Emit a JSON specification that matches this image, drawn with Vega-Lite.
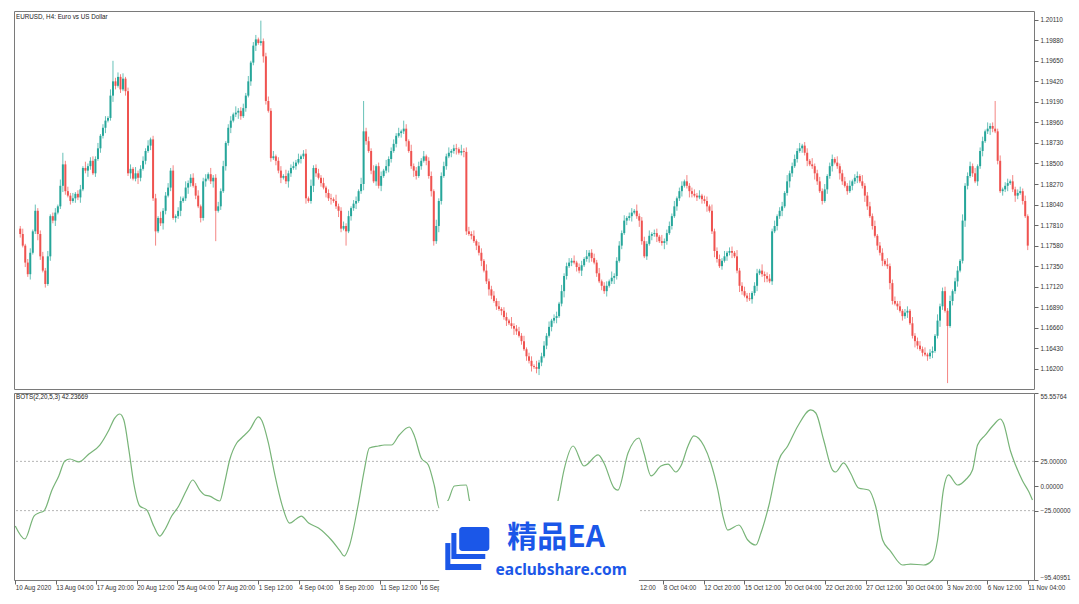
{
"$schema": "https://vega.github.io/schema/vega-lite/v6.json",
"background": "white",
"padding": {"left": 12, "top": 10, "right": 0, "bottom": 0},
"spacing": 2,
"config": {
  "view": {"stroke": "#7a7a7a", "strokeWidth": 1},
  "axis": {"labelFont": "Liberation Sans", "labelFontSize": 6.3, "labelColor": "#333333", "tickColor": "#666666", "tickSize": 4, "domain": false, "grid": false, "labelOverlap": false},
  "title": {"font": "Liberation Sans", "fontSize": 6.3, "fontWeight": "normal", "color": "#222222", "anchor": "start", "frame": "group"}
},
"datasets": {
"bars": [
{"i":0,"o":1.1777,"h":1.1780,"l":1.1767,"c":1.1771},
{"i":1,"o":1.1771,"h":1.1777,"l":1.1756,"c":1.1758},
{"i":2,"o":1.1758,"h":1.1760,"l":1.1734,"c":1.1739},
{"i":3,"o":1.1739,"h":1.1743,"l":1.1723,"c":1.1726},
{"i":4,"o":1.1726,"h":1.1755,"l":1.1720,"c":1.1750},
{"i":5,"o":1.1750,"h":1.1776,"l":1.1748,"c":1.1774},
{"i":6,"o":1.1774,"h":1.1804,"l":1.1771,"c":1.1797},
{"i":7,"o":1.1797,"h":1.1800,"l":1.1764,"c":1.1771},
{"i":8,"o":1.1771,"h":1.1775,"l":1.1742,"c":1.1746},
{"i":9,"o":1.1746,"h":1.1751,"l":1.1728,"c":1.1730},
{"i":10,"o":1.1730,"h":1.1733,"l":1.1711,"c":1.1715},
{"i":11,"o":1.1715,"h":1.1752,"l":1.1713,"c":1.1746},
{"i":12,"o":1.1746,"h":1.1793,"l":1.1741,"c":1.1791},
{"i":13,"o":1.1791,"h":1.1795,"l":1.1783,"c":1.1786},
{"i":14,"o":1.1786,"h":1.1800,"l":1.1780,"c":1.1795},
{"i":15,"o":1.1795,"h":1.1804,"l":1.1793,"c":1.1802},
{"i":16,"o":1.1802,"h":1.1832,"l":1.1799,"c":1.1825},
{"i":17,"o":1.1825,"h":1.1862,"l":1.1818,"c":1.1849},
{"i":18,"o":1.1849,"h":1.1853,"l":1.1815,"c":1.1819},
{"i":19,"o":1.1819,"h":1.1824,"l":1.1812,"c":1.1814},
{"i":20,"o":1.1814,"h":1.1817,"l":1.1804,"c":1.1808},
{"i":21,"o":1.1808,"h":1.1817,"l":1.1806,"c":1.1811},
{"i":22,"o":1.1811,"h":1.1818,"l":1.1806,"c":1.1816},
{"i":23,"o":1.1816,"h":1.1820,"l":1.1809,"c":1.1812},
{"i":24,"o":1.1812,"h":1.1826,"l":1.1806,"c":1.1821},
{"i":25,"o":1.1821,"h":1.1847,"l":1.1819,"c":1.1845},
{"i":26,"o":1.1845,"h":1.1852,"l":1.1839,"c":1.1842},
{"i":27,"o":1.1842,"h":1.1850,"l":1.1835,"c":1.1847},
{"i":28,"o":1.1847,"h":1.1857,"l":1.1843,"c":1.1853},
{"i":29,"o":1.1853,"h":1.1858,"l":1.1837,"c":1.1839},
{"i":30,"o":1.1839,"h":1.1858,"l":1.1835,"c":1.1855},
{"i":31,"o":1.1855,"h":1.1873,"l":1.1853,"c":1.1867},
{"i":32,"o":1.1867,"h":1.1883,"l":1.1862,"c":1.1881},
{"i":33,"o":1.1881,"h":1.1894,"l":1.1878,"c":1.1890},
{"i":34,"o":1.1890,"h":1.1903,"l":1.1884,"c":1.1898},
{"i":35,"o":1.1898,"h":1.1903,"l":1.1896,"c":1.1901},
{"i":36,"o":1.1901,"h":1.1933,"l":1.1898,"c":1.1926},
{"i":37,"o":1.1926,"h":1.1965,"l":1.1919,"c":1.1942},
{"i":38,"o":1.1942,"h":1.1946,"l":1.1933,"c":1.1937},
{"i":39,"o":1.1937,"h":1.1952,"l":1.1935,"c":1.1947},
{"i":40,"o":1.1947,"h":1.1950,"l":1.1929,"c":1.1933},
{"i":41,"o":1.1933,"h":1.1951,"l":1.1931,"c":1.1945},
{"i":42,"o":1.1945,"h":1.1947,"l":1.1926,"c":1.1931},
{"i":43,"o":1.1931,"h":1.1935,"l":1.1836,"c":1.1839},
{"i":44,"o":1.1839,"h":1.1849,"l":1.1833,"c":1.1844},
{"i":45,"o":1.1844,"h":1.1846,"l":1.1831,"c":1.1833},
{"i":46,"o":1.1833,"h":1.1846,"l":1.1830,"c":1.1839},
{"i":47,"o":1.1839,"h":1.1842,"l":1.1827,"c":1.1834},
{"i":48,"o":1.1834,"h":1.1848,"l":1.1830,"c":1.1844},
{"i":49,"o":1.1844,"h":1.1858,"l":1.1842,"c":1.1853},
{"i":50,"o":1.1853,"h":1.1867,"l":1.1849,"c":1.1864},
{"i":51,"o":1.1864,"h":1.1876,"l":1.1862,"c":1.1870},
{"i":52,"o":1.1870,"h":1.1879,"l":1.1865,"c":1.1877},
{"i":53,"o":1.1877,"h":1.1881,"l":1.1808,"c":1.1811},
{"i":54,"o":1.1811,"h":1.1816,"l":1.1758,"c":1.1774},
{"i":55,"o":1.1774,"h":1.1791,"l":1.1772,"c":1.1789},
{"i":56,"o":1.1789,"h":1.1796,"l":1.1780,"c":1.1783},
{"i":57,"o":1.1783,"h":1.1800,"l":1.1776,"c":1.1797},
{"i":58,"o":1.1797,"h":1.1818,"l":1.1793,"c":1.1814},
{"i":59,"o":1.1814,"h":1.1828,"l":1.1812,"c":1.1823},
{"i":60,"o":1.1823,"h":1.1845,"l":1.1819,"c":1.1842},
{"i":61,"o":1.1842,"h":1.1848,"l":1.1787,"c":1.1789},
{"i":62,"o":1.1789,"h":1.1793,"l":1.1784,"c":1.1791},
{"i":63,"o":1.1791,"h":1.1801,"l":1.1788,"c":1.1797},
{"i":64,"o":1.1797,"h":1.1813,"l":1.1791,"c":1.1808},
{"i":65,"o":1.1808,"h":1.1813,"l":1.1806,"c":1.1811},
{"i":66,"o":1.1811,"h":1.1830,"l":1.1808,"c":1.1823},
{"i":67,"o":1.1823,"h":1.1831,"l":1.1816,"c":1.1828},
{"i":68,"o":1.1828,"h":1.1838,"l":1.1824,"c":1.1834},
{"i":69,"o":1.1834,"h":1.1839,"l":1.1823,"c":1.1825},
{"i":70,"o":1.1825,"h":1.1828,"l":1.1810,"c":1.1814},
{"i":71,"o":1.1814,"h":1.1820,"l":1.1800,"c":1.1802},
{"i":72,"o":1.1802,"h":1.1804,"l":1.1784,"c":1.1789},
{"i":73,"o":1.1789,"h":1.1834,"l":1.1786,"c":1.1830},
{"i":74,"o":1.1830,"h":1.1838,"l":1.1824,"c":1.1833},
{"i":75,"o":1.1833,"h":1.1840,"l":1.1831,"c":1.1838},
{"i":76,"o":1.1838,"h":1.1845,"l":1.1827,"c":1.1830},
{"i":77,"o":1.1830,"h":1.1837,"l":1.1823,"c":1.1834},
{"i":78,"o":1.1834,"h":1.1838,"l":1.1763,"c":1.1797},
{"i":79,"o":1.1797,"h":1.1807,"l":1.1795,"c":1.1802},
{"i":80,"o":1.1802,"h":1.1822,"l":1.1798,"c":1.1819},
{"i":81,"o":1.1819,"h":1.1853,"l":1.1817,"c":1.1847},
{"i":82,"o":1.1847,"h":1.1875,"l":1.1842,"c":1.1873},
{"i":83,"o":1.1873,"h":1.1894,"l":1.1870,"c":1.1890},
{"i":84,"o":1.1890,"h":1.1903,"l":1.1884,"c":1.1898},
{"i":85,"o":1.1898,"h":1.1907,"l":1.1896,"c":1.1905},
{"i":86,"o":1.1905,"h":1.1914,"l":1.1902,"c":1.1907},
{"i":87,"o":1.1907,"h":1.1912,"l":1.1900,"c":1.1909},
{"i":88,"o":1.1909,"h":1.1913,"l":1.1899,"c":1.1903},
{"i":89,"o":1.1903,"h":1.1917,"l":1.1901,"c":1.1912},
{"i":90,"o":1.1912,"h":1.1929,"l":1.1908,"c":1.1926},
{"i":91,"o":1.1926,"h":1.1948,"l":1.1924,"c":1.1942},
{"i":92,"o":1.1942,"h":1.1965,"l":1.1937,"c":1.1963},
{"i":93,"o":1.1963,"h":1.1986,"l":1.1960,"c":1.1982},
{"i":94,"o":1.1982,"h":1.1994,"l":1.1976,"c":1.1989},
{"i":95,"o":1.1989,"h":1.1991,"l":1.1983,"c":1.1985},
{"i":96,"o":1.1985,"h":1.2010,"l":1.1982,"c":1.1987},
{"i":97,"o":1.1987,"h":1.1990,"l":1.1963,"c":1.1970},
{"i":98,"o":1.1970,"h":1.1974,"l":1.1916,"c":1.1920},
{"i":99,"o":1.1920,"h":1.1925,"l":1.1907,"c":1.1909},
{"i":100,"o":1.1909,"h":1.1912,"l":1.1852,"c":1.1856},
{"i":101,"o":1.1856,"h":1.1864,"l":1.1854,"c":1.1858},
{"i":102,"o":1.1858,"h":1.1860,"l":1.1848,"c":1.1853},
{"i":103,"o":1.1853,"h":1.1857,"l":1.1839,"c":1.1842},
{"i":104,"o":1.1842,"h":1.1847,"l":1.1828,"c":1.1834},
{"i":105,"o":1.1834,"h":1.1838,"l":1.1832,"c":1.1836},
{"i":106,"o":1.1836,"h":1.1843,"l":1.1827,"c":1.1830},
{"i":107,"o":1.1830,"h":1.1842,"l":1.1823,"c":1.1839},
{"i":108,"o":1.1839,"h":1.1849,"l":1.1835,"c":1.1845},
{"i":109,"o":1.1845,"h":1.1852,"l":1.1843,"c":1.1847},
{"i":110,"o":1.1847,"h":1.1854,"l":1.1843,"c":1.1851},
{"i":111,"o":1.1851,"h":1.1861,"l":1.1849,"c":1.1855},
{"i":112,"o":1.1855,"h":1.1860,"l":1.1850,"c":1.1858},
{"i":113,"o":1.1858,"h":1.1865,"l":1.1855,"c":1.1861},
{"i":114,"o":1.1861,"h":1.1866,"l":1.1805,"c":1.1811},
{"i":115,"o":1.1811,"h":1.1813,"l":1.1806,"c":1.1808},
{"i":116,"o":1.1808,"h":1.1832,"l":1.1805,"c":1.1825},
{"i":117,"o":1.1825,"h":1.1848,"l":1.1818,"c":1.1845},
{"i":118,"o":1.1845,"h":1.1849,"l":1.1835,"c":1.1839},
{"i":119,"o":1.1839,"h":1.1844,"l":1.1832,"c":1.1834},
{"i":120,"o":1.1834,"h":1.1837,"l":1.1824,"c":1.1828},
{"i":121,"o":1.1828,"h":1.1834,"l":1.1821,"c":1.1823},
{"i":122,"o":1.1823,"h":1.1825,"l":1.1812,"c":1.1817},
{"i":123,"o":1.1817,"h":1.1821,"l":1.1808,"c":1.1811},
{"i":124,"o":1.1811,"h":1.1816,"l":1.1804,"c":1.1810},
{"i":125,"o":1.1810,"h":1.1812,"l":1.1806,"c":1.1808},
{"i":126,"o":1.1808,"h":1.1815,"l":1.1799,"c":1.1802},
{"i":127,"o":1.1802,"h":1.1805,"l":1.1790,"c":1.1797},
{"i":128,"o":1.1797,"h":1.1801,"l":1.1773,"c":1.1777},
{"i":129,"o":1.1777,"h":1.1785,"l":1.1775,"c":1.1780},
{"i":130,"o":1.1780,"h":1.1783,"l":1.1758,"c":1.1774},
{"i":131,"o":1.1774,"h":1.1797,"l":1.1772,"c":1.1791},
{"i":132,"o":1.1791,"h":1.1802,"l":1.1786,"c":1.1800},
{"i":133,"o":1.1800,"h":1.1809,"l":1.1797,"c":1.1805},
{"i":134,"o":1.1805,"h":1.1813,"l":1.1799,"c":1.1808},
{"i":135,"o":1.1808,"h":1.1821,"l":1.1806,"c":1.1819},
{"i":136,"o":1.1819,"h":1.1834,"l":1.1816,"c":1.1827},
{"i":137,"o":1.1827,"h":1.1920,"l":1.1820,"c":1.1886},
{"i":138,"o":1.1886,"h":1.1890,"l":1.1871,"c":1.1875},
{"i":139,"o":1.1875,"h":1.1880,"l":1.1862,"c":1.1864},
{"i":140,"o":1.1864,"h":1.1867,"l":1.1838,"c":1.1842},
{"i":141,"o":1.1842,"h":1.1848,"l":1.1828,"c":1.1830},
{"i":142,"o":1.1830,"h":1.1849,"l":1.1825,"c":1.1847},
{"i":143,"o":1.1847,"h":1.1851,"l":1.1822,"c":1.1825},
{"i":144,"o":1.1825,"h":1.1841,"l":1.1819,"c":1.1836},
{"i":145,"o":1.1836,"h":1.1844,"l":1.1834,"c":1.1842},
{"i":146,"o":1.1842,"h":1.1854,"l":1.1839,"c":1.1847},
{"i":147,"o":1.1847,"h":1.1858,"l":1.1840,"c":1.1855},
{"i":148,"o":1.1855,"h":1.1868,"l":1.1851,"c":1.1864},
{"i":149,"o":1.1864,"h":1.1877,"l":1.1862,"c":1.1872},
{"i":150,"o":1.1872,"h":1.1884,"l":1.1868,"c":1.1881},
{"i":151,"o":1.1881,"h":1.1890,"l":1.1879,"c":1.1884},
{"i":152,"o":1.1884,"h":1.1888,"l":1.1879,"c":1.1886},
{"i":153,"o":1.1886,"h":1.1898,"l":1.1883,"c":1.1889},
{"i":154,"o":1.1889,"h":1.1894,"l":1.1869,"c":1.1875},
{"i":155,"o":1.1875,"h":1.1877,"l":1.1862,"c":1.1864},
{"i":156,"o":1.1864,"h":1.1871,"l":1.1844,"c":1.1847},
{"i":157,"o":1.1847,"h":1.1850,"l":1.1835,"c":1.1842},
{"i":158,"o":1.1842,"h":1.1846,"l":1.1832,"c":1.1836},
{"i":159,"o":1.1836,"h":1.1852,"l":1.1834,"c":1.1847},
{"i":160,"o":1.1847,"h":1.1856,"l":1.1843,"c":1.1853},
{"i":161,"o":1.1853,"h":1.1864,"l":1.1851,"c":1.1858},
{"i":162,"o":1.1858,"h":1.1860,"l":1.1848,"c":1.1853},
{"i":163,"o":1.1853,"h":1.1857,"l":1.1833,"c":1.1836},
{"i":164,"o":1.1836,"h":1.1841,"l":1.1813,"c":1.1819},
{"i":165,"o":1.1819,"h":1.1821,"l":1.1758,"c":1.1763},
{"i":166,"o":1.1763,"h":1.1787,"l":1.1760,"c":1.1780},
{"i":167,"o":1.1780,"h":1.1811,"l":1.1773,"c":1.1808},
{"i":168,"o":1.1808,"h":1.1840,"l":1.1804,"c":1.1836},
{"i":169,"o":1.1836,"h":1.1852,"l":1.1834,"c":1.1847},
{"i":170,"o":1.1847,"h":1.1861,"l":1.1843,"c":1.1858},
{"i":171,"o":1.1858,"h":1.1868,"l":1.1856,"c":1.1862},
{"i":172,"o":1.1862,"h":1.1866,"l":1.1857,"c":1.1864},
{"i":173,"o":1.1864,"h":1.1871,"l":1.1861,"c":1.1867},
{"i":174,"o":1.1867,"h":1.1872,"l":1.1860,"c":1.1866},
{"i":175,"o":1.1866,"h":1.1868,"l":1.1860,"c":1.1862},
{"i":176,"o":1.1862,"h":1.1871,"l":1.1859,"c":1.1864},
{"i":177,"o":1.1864,"h":1.1867,"l":1.1857,"c":1.1863},
{"i":178,"o":1.1863,"h":1.1868,"l":1.1770,"c":1.1774},
{"i":179,"o":1.1774,"h":1.1779,"l":1.1769,"c":1.1771},
{"i":180,"o":1.1771,"h":1.1774,"l":1.1765,"c":1.1769},
{"i":181,"o":1.1769,"h":1.1775,"l":1.1761,"c":1.1763},
{"i":182,"o":1.1763,"h":1.1765,"l":1.1753,"c":1.1758},
{"i":183,"o":1.1758,"h":1.1762,"l":1.1747,"c":1.1750},
{"i":184,"o":1.1750,"h":1.1755,"l":1.1735,"c":1.1741},
{"i":185,"o":1.1741,"h":1.1743,"l":1.1728,"c":1.1730},
{"i":186,"o":1.1730,"h":1.1737,"l":1.1715,"c":1.1718},
{"i":187,"o":1.1718,"h":1.1721,"l":1.1702,"c":1.1709},
{"i":188,"o":1.1709,"h":1.1713,"l":1.1698,"c":1.1702},
{"i":189,"o":1.1702,"h":1.1707,"l":1.1694,"c":1.1696},
{"i":190,"o":1.1696,"h":1.1699,"l":1.1686,"c":1.1690},
{"i":191,"o":1.1690,"h":1.1696,"l":1.1685,"c":1.1687},
{"i":192,"o":1.1687,"h":1.1689,"l":1.1680,"c":1.1685},
{"i":193,"o":1.1685,"h":1.1689,"l":1.1675,"c":1.1678},
{"i":194,"o":1.1678,"h":1.1683,"l":1.1668,"c":1.1674},
{"i":195,"o":1.1674,"h":1.1676,"l":1.1669,"c":1.1671},
{"i":196,"o":1.1671,"h":1.1678,"l":1.1665,"c":1.1668},
{"i":197,"o":1.1668,"h":1.1671,"l":1.1658,"c":1.1665},
{"i":198,"o":1.1665,"h":1.1669,"l":1.1658,"c":1.1662},
{"i":199,"o":1.1662,"h":1.1667,"l":1.1655,"c":1.1657},
{"i":200,"o":1.1657,"h":1.1660,"l":1.1647,"c":1.1651},
{"i":201,"o":1.1651,"h":1.1657,"l":1.1640,"c":1.1642},
{"i":202,"o":1.1642,"h":1.1644,"l":1.1629,"c":1.1634},
{"i":203,"o":1.1634,"h":1.1638,"l":1.1626,"c":1.1629},
{"i":204,"o":1.1629,"h":1.1634,"l":1.1617,"c":1.1623},
{"i":205,"o":1.1623,"h":1.1625,"l":1.1620,"c":1.1622},
{"i":206,"o":1.1622,"h":1.1629,"l":1.1615,"c":1.1620},
{"i":207,"o":1.1620,"h":1.1630,"l":1.1613,"c":1.1627},
{"i":208,"o":1.1627,"h":1.1638,"l":1.1623,"c":1.1634},
{"i":209,"o":1.1634,"h":1.1651,"l":1.1632,"c":1.1646},
{"i":210,"o":1.1646,"h":1.1660,"l":1.1642,"c":1.1657},
{"i":211,"o":1.1657,"h":1.1673,"l":1.1655,"c":1.1667},
{"i":212,"o":1.1667,"h":1.1676,"l":1.1662,"c":1.1674},
{"i":213,"o":1.1674,"h":1.1681,"l":1.1671,"c":1.1677},
{"i":214,"o":1.1677,"h":1.1684,"l":1.1671,"c":1.1679},
{"i":215,"o":1.1679,"h":1.1695,"l":1.1677,"c":1.1693},
{"i":216,"o":1.1693,"h":1.1714,"l":1.1690,"c":1.1707},
{"i":217,"o":1.1707,"h":1.1727,"l":1.1700,"c":1.1724},
{"i":218,"o":1.1724,"h":1.1739,"l":1.1720,"c":1.1735},
{"i":219,"o":1.1735,"h":1.1744,"l":1.1733,"c":1.1739},
{"i":220,"o":1.1739,"h":1.1744,"l":1.1735,"c":1.1741},
{"i":221,"o":1.1741,"h":1.1747,"l":1.1737,"c":1.1739},
{"i":222,"o":1.1739,"h":1.1741,"l":1.1729,"c":1.1734},
{"i":223,"o":1.1734,"h":1.1738,"l":1.1727,"c":1.1730},
{"i":224,"o":1.1730,"h":1.1741,"l":1.1724,"c":1.1736},
{"i":225,"o":1.1736,"h":1.1745,"l":1.1734,"c":1.1743},
{"i":226,"o":1.1743,"h":1.1753,"l":1.1740,"c":1.1746},
{"i":227,"o":1.1746,"h":1.1753,"l":1.1739,"c":1.1750},
{"i":228,"o":1.1750,"h":1.1754,"l":1.1740,"c":1.1744},
{"i":229,"o":1.1744,"h":1.1749,"l":1.1737,"c":1.1739},
{"i":230,"o":1.1739,"h":1.1742,"l":1.1723,"c":1.1727},
{"i":231,"o":1.1727,"h":1.1733,"l":1.1716,"c":1.1718},
{"i":232,"o":1.1718,"h":1.1720,"l":1.1708,"c":1.1713},
{"i":233,"o":1.1713,"h":1.1717,"l":1.1704,"c":1.1707},
{"i":234,"o":1.1707,"h":1.1718,"l":1.1701,"c":1.1713},
{"i":235,"o":1.1713,"h":1.1720,"l":1.1711,"c":1.1718},
{"i":236,"o":1.1718,"h":1.1729,"l":1.1715,"c":1.1722},
{"i":237,"o":1.1722,"h":1.1727,"l":1.1715,"c":1.1724},
{"i":238,"o":1.1724,"h":1.1745,"l":1.1720,"c":1.1741},
{"i":239,"o":1.1741,"h":1.1763,"l":1.1739,"c":1.1758},
{"i":240,"o":1.1758,"h":1.1775,"l":1.1754,"c":1.1772},
{"i":241,"o":1.1772,"h":1.1792,"l":1.1770,"c":1.1786},
{"i":242,"o":1.1786,"h":1.1791,"l":1.1781,"c":1.1789},
{"i":243,"o":1.1789,"h":1.1795,"l":1.1786,"c":1.1791},
{"i":244,"o":1.1791,"h":1.1800,"l":1.1785,"c":1.1795},
{"i":245,"o":1.1795,"h":1.1799,"l":1.1793,"c":1.1797},
{"i":246,"o":1.1797,"h":1.1804,"l":1.1788,"c":1.1791},
{"i":247,"o":1.1791,"h":1.1794,"l":1.1779,"c":1.1786},
{"i":248,"o":1.1786,"h":1.1790,"l":1.1759,"c":1.1763},
{"i":249,"o":1.1763,"h":1.1768,"l":1.1744,"c":1.1746},
{"i":250,"o":1.1746,"h":1.1763,"l":1.1742,"c":1.1760},
{"i":251,"o":1.1760,"h":1.1775,"l":1.1758,"c":1.1769},
{"i":252,"o":1.1769,"h":1.1773,"l":1.1764,"c":1.1771},
{"i":253,"o":1.1771,"h":1.1776,"l":1.1768,"c":1.1772},
{"i":254,"o":1.1772,"h":1.1777,"l":1.1762,"c":1.1768},
{"i":255,"o":1.1768,"h":1.1770,"l":1.1761,"c":1.1763},
{"i":256,"o":1.1763,"h":1.1770,"l":1.1758,"c":1.1761},
{"i":257,"o":1.1761,"h":1.1766,"l":1.1754,"c":1.1763},
{"i":258,"o":1.1763,"h":1.1776,"l":1.1759,"c":1.1772},
{"i":259,"o":1.1772,"h":1.1785,"l":1.1770,"c":1.1780},
{"i":260,"o":1.1780,"h":1.1794,"l":1.1776,"c":1.1791},
{"i":261,"o":1.1791,"h":1.1808,"l":1.1789,"c":1.1802},
{"i":262,"o":1.1802,"h":1.1813,"l":1.1797,"c":1.1811},
{"i":263,"o":1.1811,"h":1.1823,"l":1.1808,"c":1.1819},
{"i":264,"o":1.1819,"h":1.1830,"l":1.1813,"c":1.1825},
{"i":265,"o":1.1825,"h":1.1832,"l":1.1823,"c":1.1830},
{"i":266,"o":1.1830,"h":1.1837,"l":1.1822,"c":1.1825},
{"i":267,"o":1.1825,"h":1.1828,"l":1.1812,"c":1.1819},
{"i":268,"o":1.1819,"h":1.1823,"l":1.1812,"c":1.1816},
{"i":269,"o":1.1816,"h":1.1821,"l":1.1812,"c":1.1814},
{"i":270,"o":1.1814,"h":1.1817,"l":1.1808,"c":1.1812},
{"i":271,"o":1.1812,"h":1.1820,"l":1.1810,"c":1.1814},
{"i":272,"o":1.1814,"h":1.1816,"l":1.1805,"c":1.1810},
{"i":273,"o":1.1810,"h":1.1814,"l":1.1805,"c":1.1808},
{"i":274,"o":1.1808,"h":1.1813,"l":1.1796,"c":1.1802},
{"i":275,"o":1.1802,"h":1.1804,"l":1.1795,"c":1.1797},
{"i":276,"o":1.1797,"h":1.1804,"l":1.1771,"c":1.1774},
{"i":277,"o":1.1774,"h":1.1777,"l":1.1745,"c":1.1752},
{"i":278,"o":1.1752,"h":1.1756,"l":1.1739,"c":1.1743},
{"i":279,"o":1.1743,"h":1.1748,"l":1.1733,"c":1.1735},
{"i":280,"o":1.1735,"h":1.1744,"l":1.1731,"c":1.1741},
{"i":281,"o":1.1741,"h":1.1752,"l":1.1739,"c":1.1746},
{"i":282,"o":1.1746,"h":1.1752,"l":1.1741,"c":1.1750},
{"i":283,"o":1.1750,"h":1.1756,"l":1.1747,"c":1.1752},
{"i":284,"o":1.1752,"h":1.1757,"l":1.1744,"c":1.1750},
{"i":285,"o":1.1750,"h":1.1752,"l":1.1744,"c":1.1746},
{"i":286,"o":1.1746,"h":1.1753,"l":1.1727,"c":1.1730},
{"i":287,"o":1.1730,"h":1.1733,"l":1.1706,"c":1.1713},
{"i":288,"o":1.1713,"h":1.1717,"l":1.1703,"c":1.1707},
{"i":289,"o":1.1707,"h":1.1712,"l":1.1700,"c":1.1702},
{"i":290,"o":1.1702,"h":1.1705,"l":1.1695,"c":1.1699},
{"i":291,"o":1.1699,"h":1.1705,"l":1.1696,"c":1.1698},
{"i":292,"o":1.1698,"h":1.1707,"l":1.1693,"c":1.1705},
{"i":293,"o":1.1705,"h":1.1717,"l":1.1702,"c":1.1713},
{"i":294,"o":1.1713,"h":1.1732,"l":1.1707,"c":1.1727},
{"i":295,"o":1.1727,"h":1.1732,"l":1.1725,"c":1.1730},
{"i":296,"o":1.1730,"h":1.1737,"l":1.1723,"c":1.1726},
{"i":297,"o":1.1726,"h":1.1729,"l":1.1717,"c":1.1724},
{"i":298,"o":1.1724,"h":1.1728,"l":1.1717,"c":1.1721},
{"i":299,"o":1.1721,"h":1.1726,"l":1.1716,"c":1.1718},
{"i":300,"o":1.1718,"h":1.1777,"l":1.1714,"c":1.1774},
{"i":301,"o":1.1774,"h":1.1786,"l":1.1772,"c":1.1780},
{"i":302,"o":1.1780,"h":1.1793,"l":1.1775,"c":1.1791},
{"i":303,"o":1.1791,"h":1.1801,"l":1.1788,"c":1.1797},
{"i":304,"o":1.1797,"h":1.1807,"l":1.1791,"c":1.1802},
{"i":305,"o":1.1802,"h":1.1819,"l":1.1800,"c":1.1817},
{"i":306,"o":1.1817,"h":1.1837,"l":1.1814,"c":1.1830},
{"i":307,"o":1.1830,"h":1.1842,"l":1.1823,"c":1.1839},
{"i":308,"o":1.1839,"h":1.1851,"l":1.1835,"c":1.1847},
{"i":309,"o":1.1847,"h":1.1860,"l":1.1845,"c":1.1855},
{"i":310,"o":1.1855,"h":1.1867,"l":1.1851,"c":1.1864},
{"i":311,"o":1.1864,"h":1.1873,"l":1.1862,"c":1.1867},
{"i":312,"o":1.1867,"h":1.1872,"l":1.1862,"c":1.1870},
{"i":313,"o":1.1870,"h":1.1874,"l":1.1859,"c":1.1862},
{"i":314,"o":1.1862,"h":1.1867,"l":1.1847,"c":1.1853},
{"i":315,"o":1.1853,"h":1.1855,"l":1.1847,"c":1.1849},
{"i":316,"o":1.1849,"h":1.1856,"l":1.1844,"c":1.1847},
{"i":317,"o":1.1847,"h":1.1850,"l":1.1832,"c":1.1839},
{"i":318,"o":1.1839,"h":1.1843,"l":1.1826,"c":1.1830},
{"i":319,"o":1.1830,"h":1.1835,"l":1.1817,"c":1.1819},
{"i":320,"o":1.1819,"h":1.1822,"l":1.1804,"c":1.1808},
{"i":321,"o":1.1808,"h":1.1827,"l":1.1806,"c":1.1821},
{"i":322,"o":1.1821,"h":1.1838,"l":1.1816,"c":1.1836},
{"i":323,"o":1.1836,"h":1.1851,"l":1.1833,"c":1.1847},
{"i":324,"o":1.1847,"h":1.1860,"l":1.1841,"c":1.1855},
{"i":325,"o":1.1855,"h":1.1857,"l":1.1849,"c":1.1851},
{"i":326,"o":1.1851,"h":1.1858,"l":1.1844,"c":1.1847},
{"i":327,"o":1.1847,"h":1.1850,"l":1.1832,"c":1.1839},
{"i":328,"o":1.1839,"h":1.1843,"l":1.1826,"c":1.1830},
{"i":329,"o":1.1830,"h":1.1835,"l":1.1823,"c":1.1825},
{"i":330,"o":1.1825,"h":1.1828,"l":1.1815,"c":1.1819},
{"i":331,"o":1.1819,"h":1.1831,"l":1.1817,"c":1.1825},
{"i":332,"o":1.1825,"h":1.1832,"l":1.1820,"c":1.1830},
{"i":333,"o":1.1830,"h":1.1838,"l":1.1827,"c":1.1834},
{"i":334,"o":1.1834,"h":1.1841,"l":1.1828,"c":1.1836},
{"i":335,"o":1.1836,"h":1.1838,"l":1.1828,"c":1.1830},
{"i":336,"o":1.1830,"h":1.1837,"l":1.1822,"c":1.1825},
{"i":337,"o":1.1825,"h":1.1828,"l":1.1807,"c":1.1814},
{"i":338,"o":1.1814,"h":1.1818,"l":1.1798,"c":1.1802},
{"i":339,"o":1.1802,"h":1.1807,"l":1.1789,"c":1.1791},
{"i":340,"o":1.1791,"h":1.1794,"l":1.1776,"c":1.1780},
{"i":341,"o":1.1780,"h":1.1786,"l":1.1767,"c":1.1769},
{"i":342,"o":1.1769,"h":1.1771,"l":1.1753,"c":1.1758},
{"i":343,"o":1.1758,"h":1.1762,"l":1.1747,"c":1.1750},
{"i":344,"o":1.1750,"h":1.1755,"l":1.1735,"c":1.1741},
{"i":345,"o":1.1741,"h":1.1743,"l":1.1735,"c":1.1737},
{"i":346,"o":1.1737,"h":1.1744,"l":1.1732,"c":1.1735},
{"i":347,"o":1.1735,"h":1.1738,"l":1.1709,"c":1.1716},
{"i":348,"o":1.1716,"h":1.1720,"l":1.1692,"c":1.1696},
{"i":349,"o":1.1696,"h":1.1701,"l":1.1691,"c":1.1693},
{"i":350,"o":1.1693,"h":1.1696,"l":1.1686,"c":1.1690},
{"i":351,"o":1.1690,"h":1.1696,"l":1.1683,"c":1.1685},
{"i":352,"o":1.1685,"h":1.1687,"l":1.1674,"c":1.1679},
{"i":353,"o":1.1679,"h":1.1687,"l":1.1676,"c":1.1683},
{"i":354,"o":1.1683,"h":1.1690,"l":1.1677,"c":1.1685},
{"i":355,"o":1.1685,"h":1.1687,"l":1.1669,"c":1.1671},
{"i":356,"o":1.1671,"h":1.1678,"l":1.1654,"c":1.1657},
{"i":357,"o":1.1657,"h":1.1660,"l":1.1644,"c":1.1651},
{"i":358,"o":1.1651,"h":1.1655,"l":1.1642,"c":1.1646},
{"i":359,"o":1.1646,"h":1.1651,"l":1.1640,"c":1.1642},
{"i":360,"o":1.1642,"h":1.1645,"l":1.1634,"c":1.1638},
{"i":361,"o":1.1638,"h":1.1644,"l":1.1634,"c":1.1636},
{"i":362,"o":1.1636,"h":1.1638,"l":1.1629,"c":1.1634},
{"i":363,"o":1.1634,"h":1.1642,"l":1.1631,"c":1.1638},
{"i":364,"o":1.1638,"h":1.1645,"l":1.1632,"c":1.1640},
{"i":365,"o":1.1640,"h":1.1659,"l":1.1638,"c":1.1657},
{"i":366,"o":1.1657,"h":1.1681,"l":1.1654,"c":1.1674},
{"i":367,"o":1.1674,"h":1.1693,"l":1.1667,"c":1.1690},
{"i":368,"o":1.1690,"h":1.1711,"l":1.1686,"c":1.1707},
{"i":369,"o":1.1707,"h":1.1712,"l":1.1683,"c":1.1685},
{"i":370,"o":1.1685,"h":1.1688,"l":1.1604,"c":1.1668},
{"i":371,"o":1.1668,"h":1.1702,"l":1.1666,"c":1.1696},
{"i":372,"o":1.1696,"h":1.1709,"l":1.1691,"c":1.1707},
{"i":373,"o":1.1707,"h":1.1722,"l":1.1704,"c":1.1718},
{"i":374,"o":1.1718,"h":1.1735,"l":1.1712,"c":1.1730},
{"i":375,"o":1.1730,"h":1.1743,"l":1.1728,"c":1.1741},
{"i":376,"o":1.1741,"h":1.1793,"l":1.1738,"c":1.1786},
{"i":377,"o":1.1786,"h":1.1828,"l":1.1779,"c":1.1825},
{"i":378,"o":1.1825,"h":1.1840,"l":1.1821,"c":1.1836},
{"i":379,"o":1.1836,"h":1.1852,"l":1.1834,"c":1.1847},
{"i":380,"o":1.1847,"h":1.1850,"l":1.1835,"c":1.1839},
{"i":381,"o":1.1839,"h":1.1845,"l":1.1828,"c":1.1830},
{"i":382,"o":1.1830,"h":1.1849,"l":1.1825,"c":1.1847},
{"i":383,"o":1.1847,"h":1.1868,"l":1.1844,"c":1.1864},
{"i":384,"o":1.1864,"h":1.1880,"l":1.1858,"c":1.1875},
{"i":385,"o":1.1875,"h":1.1888,"l":1.1873,"c":1.1886},
{"i":386,"o":1.1886,"h":1.1896,"l":1.1883,"c":1.1889},
{"i":387,"o":1.1889,"h":1.1895,"l":1.1882,"c":1.1892},
{"i":388,"o":1.1892,"h":1.1896,"l":1.1885,"c":1.1889},
{"i":389,"o":1.1889,"h":1.1920,"l":1.1884,"c":1.1886},
{"i":390,"o":1.1886,"h":1.1889,"l":1.1849,"c":1.1853},
{"i":391,"o":1.1853,"h":1.1859,"l":1.1817,"c":1.1819},
{"i":392,"o":1.1819,"h":1.1823,"l":1.1814,"c":1.1821},
{"i":393,"o":1.1821,"h":1.1829,"l":1.1818,"c":1.1825},
{"i":394,"o":1.1825,"h":1.1833,"l":1.1819,"c":1.1828},
{"i":395,"o":1.1828,"h":1.1832,"l":1.1826,"c":1.1830},
{"i":396,"o":1.1830,"h":1.1837,"l":1.1818,"c":1.1821},
{"i":397,"o":1.1821,"h":1.1824,"l":1.1807,"c":1.1814},
{"i":398,"o":1.1814,"h":1.1821,"l":1.1810,"c":1.1817},
{"i":399,"o":1.1817,"h":1.1824,"l":1.1815,"c":1.1819},
{"i":400,"o":1.1819,"h":1.1822,"l":1.1804,"c":1.1808},
{"i":401,"o":1.1808,"h":1.1814,"l":1.1789,"c":1.1791},
{"i":402,"o":1.1791,"h":1.1793,"l":1.1753,"c":1.1758}
],
"osc": [
{"i":0,"v":-40.6,"s":"a"},{"i":3.8,"v":-53.8,"s":"a"},{"i":7.4,"v":-30.5,"s":"a"},{"i":9.3,"v":-27.4,"s":"a"},{"i":11.3,"v":-25.4,"s":"a"},{"i":14.5,"v":-4.1,"s":"a"},{"i":17.2,"v":10.2,"s":"a"},{"i":19.6,"v":25.4,"s":"a"},{"i":21.6,"v":27.4,"s":"a"},{"i":25.1,"v":24.4,"s":"a"},{"i":29.1,"v":32.5,"s":"a"},{"i":33.4,"v":41.6,"s":"a"},{"i":37,"v":56.9,"s":"a"},{"i":39.3,"v":69.0,"s":"a"},{"i":41.3,"v":73.1,"s":"a"},{"i":42.9,"v":67.0,"s":"a"},{"i":44.9,"v":36.5,"s":"a"},{"i":46.8,"v":3.0,"s":"a"},{"i":49.2,"v":-20.3,"s":"a"},{"i":52,"v":-24.4,"s":"a"},{"i":54.7,"v":-40.6,"s":"a"},{"i":57.1,"v":-50.8,"s":"a"},{"i":59,"v":-44.7,"s":"a"},{"i":61.8,"v":-30.5,"s":"a"},{"i":64.6,"v":-20.3,"s":"a"},{"i":67.7,"v":-4.1,"s":"a"},{"i":70.1,"v":6.1,"s":"a"},{"i":72.9,"v":-4.1,"s":"a"},{"i":74.8,"v":-9.1,"s":"a"},{"i":76.8,"v":-10.2,"s":"a"},{"i":80.8,"v":-15.2,"s":"a"},{"i":82.7,"v":3.0,"s":"a"},{"i":84.7,"v":26.4,"s":"a"},{"i":87.5,"v":43.7,"s":"a"},{"i":89.4,"v":48.7,"s":"a"},{"i":92.6,"v":56.9,"s":"a"},{"i":96.1,"v":70.1,"s":"a"},{"i":97.3,"v":67.0,"s":"a"},{"i":100,"v":43.7,"s":"a"},{"i":102.4,"v":13.2,"s":"a"},{"i":105.2,"v":-17.3,"s":"a"},{"i":108.4,"v":-37.6,"s":"a"},{"i":111,"v":-33.5,"s":"a"},{"i":113,"v":-30.5,"s":"a"},{"i":115.9,"v":-37.6,"s":"a"},{"i":119.8,"v":-42.6,"s":"a"},{"i":124.9,"v":-54.8,"s":"a"},{"i":128.1,"v":-65.0,"s":"a"},{"i":130,"v":-71.1,"s":"a"},{"i":132,"v":-60.9,"s":"a"},{"i":135.6,"v":-17.3,"s":"a"},{"i":137.9,"v":16.2,"s":"a"},{"i":139.9,"v":38.6,"s":"a"},{"i":143.5,"v":40.6,"s":"a"},{"i":145.8,"v":41.6,"s":"a"},{"i":148.6,"v":41.6,"s":"a"},{"i":151.7,"v":51.8,"s":"a"},{"i":155.7,"v":59.9,"s":"a"},{"i":157.7,"v":50.8,"s":"a"},{"i":160.4,"v":28.4,"s":"a"},{"i":163.2,"v":21.3,"s":"a"},{"i":165.6,"v":0,"s":"a"},{"i":167.5,"v":-22.3,"s":"a"},{"i":171.1,"v":-14.2,"s":"a"},{"i":173.5,"v":0,"s":"a"},{"i":178.2,"v":1.0,"s":"a"},{"i":179.4,"v":-14.2,"s":"a"},{"i":181,"v":-30,"s":"a"},
{"i":212,"v":-35,"s":"b"},{"i":214.5,"v":-14.2,"s":"b"},{"i":216.8,"v":16.2,"s":"b"},{"i":220.4,"v":40.6,"s":"b"},{"i":224.7,"v":20.3,"s":"b"},{"i":230.3,"v":31.5,"s":"b"},{"i":232.6,"v":23.4,"s":"b"},{"i":236.6,"v":-2.0,"s":"b"},{"i":238.1,"v":-4.1,"s":"b"},{"i":242.1,"v":33.5,"s":"b"},{"i":246.4,"v":48.7,"s":"b"},{"i":248.4,"v":33.5,"s":"b"},{"i":251.2,"v":10.2,"s":"b"},{"i":255.1,"v":20.3,"s":"b"},{"i":257.9,"v":22.3,"s":"b"},{"i":261,"v":14.2,"s":"b"},{"i":263,"v":20.3,"s":"b"},{"i":265.8,"v":40.6,"s":"b"},{"i":268.1,"v":50.8,"s":"b"},{"i":272.1,"v":40.6,"s":"b"},{"i":274.8,"v":23.4,"s":"b"},{"i":277.6,"v":-4.1,"s":"b"},{"i":279.6,"v":-30.5,"s":"b"},{"i":281.5,"v":-44.7,"s":"b"},{"i":285.9,"v":-39.6,"s":"b"},{"i":289.4,"v":-54.8,"s":"b"},{"i":292.6,"v":-59.9,"s":"b"},{"i":294.6,"v":-47.7,"s":"b"},{"i":297.7,"v":-20.3,"s":"b"},{"i":301.7,"v":26.4,"s":"b"},{"i":305.2,"v":40.6,"s":"b"},{"i":309.2,"v":60.9,"s":"b"},{"i":314.3,"v":77.2,"s":"b"},{"i":316.3,"v":74.1,"s":"b"},{"i":319.4,"v":46.7,"s":"b"},{"i":322.9,"v":16.2,"s":"b"},{"i":324.1,"v":14.2,"s":"b"},{"i":327.3,"v":23.4,"s":"b"},{"i":330,"v":13.2,"s":"b"},{"i":333.2,"v":-2.0,"s":"b"},{"i":337.2,"v":-4.1,"s":"b"},{"i":339.9,"v":-20.3,"s":"b"},{"i":342.7,"v":-54.8,"s":"b"},{"i":345.8,"v":-66.0,"s":"b"},{"i":350.6,"v":-80.2,"s":"b"},{"i":353.7,"v":-79.2,"s":"b"},{"i":358.9,"v":-80.2,"s":"b"},{"i":362.4,"v":-75.1,"s":"b"},{"i":364.4,"v":-54.8,"s":"b"},{"i":366.7,"v":-4.1,"s":"b"},{"i":368.7,"v":11.2,"s":"b"},{"i":372.3,"v":1.0,"s":"b"},{"i":375.4,"v":6.1,"s":"b"},{"i":378.2,"v":16.2,"s":"b"},{"i":380.2,"v":41.6,"s":"b"},{"i":383.3,"v":51.8,"s":"b"},{"i":386.5,"v":61.9,"s":"b"},{"i":389.2,"v":68.0,"s":"b"},{"i":390.4,"v":64.0,"s":"b"},{"i":393.2,"v":35.5,"s":"b"},{"i":395.2,"v":21.3,"s":"b"},{"i":398,"v":5.1,"s":"b"},{"i":400.3,"v":-5.1,"s":"b"},{"i":401.9,"v":-14.2,"s":"b"}
]
},
"vconcat": [
{
  "width": 1020, "height": 378,
  "title": {"text": "EURUSD, H4:  Euro vs US Dollar", "offset": -9, "dx": 2},
  "data": {"name": "bars"},
  "layer": [
    {"mark": {"type": "rule", "strokeWidth": 1, "opacity": 0.7},
     "encoding": {
       "x": {"field": "i", "type": "quantitative", "scale": {"domain": [-0.5, 402.5], "nice": false, "zero": false}, "axis": null},
       "y": {"field": "l", "type": "quantitative", "scale": {"domain": [1.15974, 1.20208], "nice": false, "zero": false},
             "axis": {"orient": "right", "title": null, "values": [1.162,1.1643,1.1666,1.1689,1.1712,1.1735,1.1758,1.1781,1.1804,1.1827,1.185,1.1873,1.1896,1.1919,1.1942,1.1965,1.1988,1.2011], "format": ".5f", "labelPadding": 2, "labelFlush": false, "labelOverlap": false, "labelSeparation": 0}},
       "y2": {"field": "h"},
       "color": {"condition": {"test": "datum.c >= datum.o", "value": "#26a69a"}, "value": "#ef5350"}
     }},
    {"mark": {"type": "bar", "size": 2},
     "encoding": {
       "x": {"field": "i", "type": "quantitative"},
       "y": {"field": "o", "type": "quantitative",
             "axis": {"orient": "right", "title": null, "values": [1.162,1.1643,1.1666,1.1689,1.1712,1.1735,1.1758,1.1781,1.1804,1.1827,1.185,1.1873,1.1896,1.1919,1.1942,1.1965,1.1988,1.2011], "format": ".5f", "labelPadding": 2, "labelFlush": false, "labelOverlap": false, "labelSeparation": 0}},
       "y2": {"field": "c"},
       "color": {"condition": {"test": "datum.c >= datum.o", "value": "#26a69a"}, "value": "#ef5350"}
     }}
  ]
},
{
  "width": 1020, "height": 187,
  "title": {"text": "BOTS(2,20,5,3) 42.23669", "offset": -8, "dx": 2},
  "layer": [
    {"data": {"values": [{"lv": 25}, {"lv": -25}]},
     "mark": {"type": "rule", "strokeDash": [2, 2], "color": "#b5b5b5", "strokeWidth": 1},
     "encoding": {
       "y": {"field": "lv", "type": "quantitative", "scale": {"domain": [-95.40951, 94.4], "nice": false, "zero": false},
             "axis": {"orient": "right", "title": null, "values": [-95.40951, -25, 0, 25, 94.4], "labelExpr": "datum.value > 90 ? '55.55764' : format(datum.value, '.5f')", "labelPadding": 2, "labelFlush": true, "labelOverlap": false}}
     }},
    {"data": {"name": "osc"},
     "mark": {"type": "line", "interpolate": "monotone", "color": "#78b478", "strokeWidth": 1.2},
     "encoding": {
       "x": {"field": "i", "type": "quantitative", "scale": {"domain": [-0.5, 402.5], "nice": false, "zero": false},
             "axis": {"orient": "bottom", "title": null, "values": [0,16,32,48,64,80,96,112,128,144,160,176,192,208,224,240,256,272,288,304,320,336,352,368,384,400],
                      "labelExpr": "['10 Aug 2020','13 Aug 04:00','17 Aug 20:00','20 Aug 12:00','25 Aug 04:00','27 Aug 20:00','1 Sep 12:00','4 Sep 04:00','8 Sep 20:00','11 Sep 12:00','16 Sep 04:00','18 Sep 20:00','23 Sep 12:00','28 Sep 04:00','30 Sep 20:00','5 Oct 12:00','8 Oct 04:00','12 Oct 20:00','15 Oct 12:00','20 Oct 04:00','22 Oct 20:00','27 Oct 12:00','30 Oct 04:00','3 Nov 20:00','6 Nov 12:00','11 Nov 04:00'][round(datum.value/16)]",
                      "labelAlign": "left", "labelBaseline": "top", "labelPadding": 0, "labelFlush": false, "labelOverlap": false}},
       "y": {"field": "v", "type": "quantitative", "scale": {"domain": [-95.40951, 94.4], "nice": false, "zero": false}},
       "detail": {"field": "s"}
     }},
    {"data": {"values": [{}]},
     "mark": {"type": "rect", "color": "white"},
     "encoding": {"x": {"datum": 167.5}, "x2": {"datum": 246.4}, "y": {"datum": -15.2}, "y2": {"datum": -122.8}}},
    {"data": {"values": [{}]},
     "mark": {"type": "rect", "color": "#1b57e8", "cornerRadius": 3},
     "encoding": {"x": {"datum": 175.4}, "x2": {"datum": 187.3}, "y": {"datum": -41.6}, "y2": {"datum": -66.0}}},
    {"data": {"values": [{}]},
     "mark": {"type": "rect", "color": "#1b57e8"},
     "encoding": {"x": {"datum": 173.0}, "x2": {"datum": 185.7}, "y": {"datum": -69.0}, "y2": {"datum": -74.1}}},
    {"data": {"values": [{}]},
     "mark": {"type": "rect", "color": "#1b57e8"},
     "encoding": {"x": {"datum": 172.3}, "x2": {"datum": 174.3}, "y": {"datum": -47.7}, "y2": {"datum": -74.1}}},
    {"data": {"values": [{}]},
     "mark": {"type": "rect", "color": "#1b57e8"},
     "encoding": {"x": {"datum": 170.7}, "x2": {"datum": 184.1}, "y": {"datum": -79.2}, "y2": {"datum": -85.3}}},
    {"data": {"values": [{}]},
     "mark": {"type": "rect", "color": "#1b57e8"},
     "encoding": {"x": {"datum": 169.9}, "x2": {"datum": 171.9}, "y": {"datum": -57.9}, "y2": {"datum": -85.3}}},
    {"data": {"values": [{}]},
     "mark": {"type": "text", "text": "精品EA", "font": "Noto Sans CJK SC", "fontWeight": "bold", "fontSize": 30, "color": "#1b57e8", "align": "center", "baseline": "middle"},
     "encoding": {"x": {"datum": 213.7}, "y": {"datum": -52.8}}},
    {"data": {"values": [{}]},
     "mark": {"type": "text", "text": "eaclubshare.com", "font": "Noto Sans", "fontWeight": "bold", "fontSize": 15.5, "color": "#1b57e8", "align": "center", "baseline": "middle"},
     "encoding": {"x": {"datum": 215.7}, "y": {"datum": -85.3}}}
  ]
}
]
}
